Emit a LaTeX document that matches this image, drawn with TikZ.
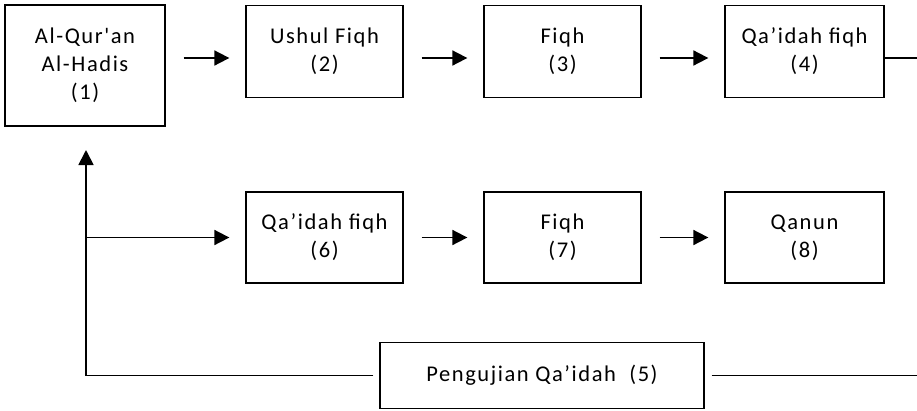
\documentclass[tikz,border=0pt]{standalone}
\usepackage{fontspec}
\setmainfont{Carlito}[Ligatures=TeXOff, LetterSpace=7]
\usepackage{tikz}
\usetikzlibrary{arrows.meta}
\tikzstyle{box}=[draw=black, line width=1.3pt, align=center, inner sep=0pt, font=\fontsize{22.5}{28}\selectfont]
\tikzstyle{arrow}=[draw=black, line width=1.8pt, -{Triangle[length=15pt, width=15pt]}]
\tikzstyle{line}=[draw=black, line width=1.8pt]

\begin{document}
\begin{tikzpicture}[x=1pt, y=-1pt]
		   \useasboundingbox (0,0) rectangle (917,410);
		   \node[box, minimum width=160pt, minimum height=121pt] (a) at (85, 65.5) {Al-Qur'an\\Al-Hadis\\(1)};
		   \node[box, minimum width=157pt, minimum height=92pt] (b) at (324.5, 51.5) {Ushul Fiqh\\(2)};
		   \node[box, minimum width=157pt, minimum height=92pt] (c) at (562.5, 51.5) {Fiqh\\(3)};
		   \node[box, minimum width=159pt, minimum height=92pt] (d) at (804.5, 51.5) {Qa’idah fiqh\\(4)};
		   \node[box, minimum width=157pt, minimum height=91pt] (f) at (324.5, 237.5) {Qa’idah fiqh\\(6)};
		   \node[box, minimum width=157pt, minimum height=91pt] (g) at (562.5, 237.5) {Fiqh\\(7)};
		   \node[box, minimum width=159pt, minimum height=91pt] (h) at (804.5, 237.5) {Qanun\\(8)};
		   \node[box, minimum width=324pt, minimum height=66pt] (e) at (542, 375.5) {Pengujian Qa’idah\ \ (5)};
		   \coordinate (r4) at (917, 58);
		   \coordinate (r5) at (917, 375.5);
		   \coordinate (up) at (86, 150);
		   \coordinate (split) at (86, 237.5);
		   \draw[arrow, shorten <=18pt, shorten >=16pt] ([yshift=-6.5pt]b.west -| a.east) -- ([yshift=-6.5pt]b.west);
		   \draw[arrow, shorten <=18pt, shorten >=16pt] ([yshift=-6.5pt]b.east) -- ([yshift=-6.5pt]c.west);
		   \draw[arrow, shorten <=18pt, shorten >=16pt] ([yshift=-6.5pt]c.east) -- ([yshift=-6.5pt]d.west);
		   \draw[line] ([yshift=-6.5pt]d.east) -- (r4);
		   \draw[arrow, shorten >=16pt] (split) -- (f.west);
		   \draw[arrow, shorten <=18pt, shorten >=16pt] (f.east) -- (g.west);
		   \draw[arrow, shorten <=18pt, shorten >=16pt] (g.east) -- (h.west);
		   \draw[arrow, shorten <=6pt] (e.west) -| (up);
		   \draw[line, shorten <=7pt] (e.east) -- (r5);
	   \end{tikzpicture}
\end{document}
